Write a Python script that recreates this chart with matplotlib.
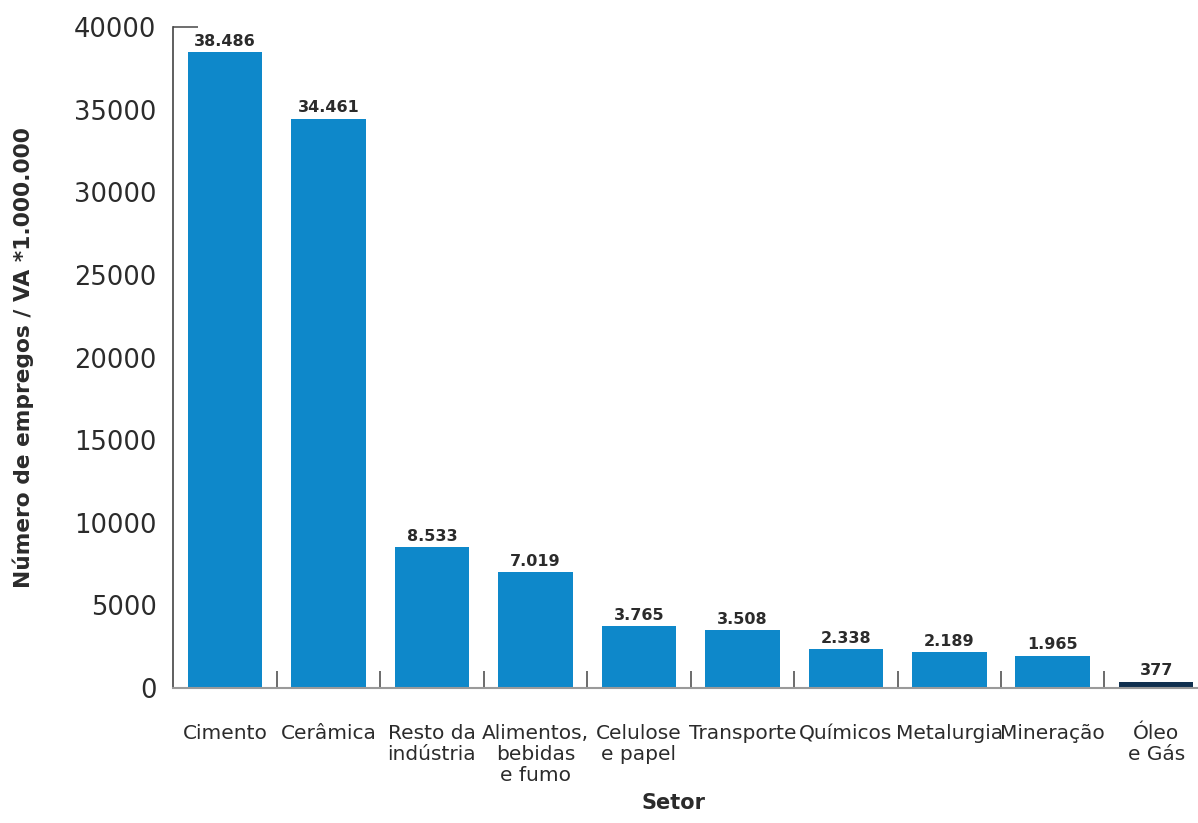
import numpy as np
import matplotlib.pyplot as plt
from matplotlib.ticker import FixedLocator

# Employment intensity per sector
setores = ['Cimento', 'Cerâmica', 'Resto da\nindústria', 'Alimentos,\nbebidas\ne fumo',
           'Celulose\ne papel', 'Transporte', 'Químicos', 'Metalurgia', 'Mineração',
           'Óleo\ne Gás']
valores = [38486, 34461, 8533, 7019, 3765, 3508, 2338, 2189, 1965, 377]
rotulos = ['38.486', '34.461', '8.533', '7.019', '3.765', '3.508', '2.338', '2.189',
           '1.965', '377']
y_ticks = [0, 5000, 10000, 15000, 20000, 25000, 30000, 35000, 40000]

plt.rcParams['font.family'] = ['DejaVu Sans']
texto = '#2b2b2b'

fig = plt.figure(figsize=(11.98, 8.23), dpi=100)
ax = fig.add_axes([0.1446, 0.164, 0.8637, 0.8032])

cores = ['#0e88ca'] * (len(valores) - 1) + ['#10304f']
x = np.arange(len(setores))
ax.bar(x, valores, width=0.72, color=cores, zorder=2)

for xi, v, r in zip(x, valores, rotulos):
    ax.text(xi, v + 200, r, ha='center', va='bottom', fontsize=11.5,
            fontweight='bold', color=texto)

ax.set_xlim(-0.5, len(setores) - 0.5)
ax.set_ylim(0, 40000)

# y axis: labels on every 5000, short inward marks only at the ends
ax.set_yticks(y_ticks)
ax.set_yticklabels([str(t) for t in y_ticks])
ax.tick_params(axis='y', which='major', direction='in', length=18, width=1.2,
               color='#555555', pad=12, labelsize=18.5, labelcolor=texto)
for t in ax.yaxis.get_major_ticks()[1:-1]:
    t.tick1line.set_visible(False)

# x axis: category labels under the bars, separators between them
ax.set_xticks(x)
ax.set_xticklabels(setores, linespacing=1.12)
ax.tick_params(axis='x', which='major', length=0, pad=26, labelsize=14.5, labelcolor=texto)
ax.xaxis.set_minor_locator(FixedLocator(x[:-1] + 0.5))
ax.tick_params(axis='x', which='minor', direction='in', length=12, width=1.1, color='#444444')

for s in ['top', 'right']:
    ax.spines[s].set_visible(False)
ax.spines['left'].set_color('#444444')
ax.spines['left'].set_linewidth(1.2)
ax.spines['bottom'].set_color('#9a9a9a')
ax.spines['bottom'].set_linewidth(1.5)

fig.text(0.019, 0.566, 'Número de empregos / VA *1.000.000', rotation=90,
         ha='center', va='center', fontsize=15.7, fontweight='bold', color=texto)
fig.text(0.562, 0.012, 'Setor', ha='center', va='bottom', fontsize=15,
         fontweight='bold', color=texto)

fig.savefig('out.png', dpi=100)
